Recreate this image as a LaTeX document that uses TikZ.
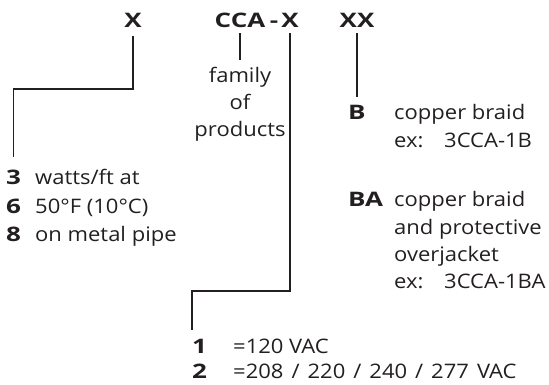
\documentclass[tikz,border=0pt]{standalone}
\usepackage{fontspec}
\setmainfont{Open Sans}[FakeStretch=1.1,BoldFeatures={FakeStretch=1.3}]
\usepackage{tikz}
\usetikzlibrary{positioning,calc}
\usepackage{xcolor}
\definecolor{ink}{HTML}{231F20}

\begin{document}
\begin{tikzpicture}[x=1pt,y=-1pt,font=\fontsize{20}{23}\selectfont,text=ink,
    lead/.style={draw=ink,line width=1.7pt},
    code/.style={font=\fontsize{20}{23}\selectfont\bfseries,inner sep=0pt,anchor=base},
    txt/.style={inner sep=0pt,anchor=base west}]
  \useasboundingbox (0,0) rectangle (549,385);
  % part number
  \node[code] (x1) at (133,28) {X};
  \node[code] (cca) at (240,28) {CCA};
  \node[code] (dash) at (274,28) {-};
  \node[code] (x2) at (290,28) {X};
  \node[code] (xx) at (357,28) {XX};
  % family of products
  \foreach \w [count=\i from 0] in {family,of,products}
    \node[txt,anchor=base] (fam\i) at (240,{83+27*\i}) {\w};
  \draw[lead,shorten <=5pt,shorten >=7pt] (cca.south) -- (fam0.north);
  % watts per foot
  \foreach \d/\t [count=\i from 0] in {3/{watts/ft at},6/{50°F (10°C)},8/{on metal pipe}} {
    \node[code,anchor=base west] (w\d) at (6,{185+28*\i}) {\d};
    \node[txt] (wt\d) at (35,{185+28*\i}) {\t};
  }
  \coordinate (k1) at (0,89);
  \draw[lead,shorten <=8pt,shorten >=13pt] (x1.south) |- (w3.north |- k1) -- (w3.north);
  % braid options
  \node[code,anchor=base west] (b) at (348,120) {B};
  \node[txt] (bt) at (394,120) {copper braid};
  \node[txt] (bex) at (394,148) {\makebox[50pt][l]{ex:}3CCA-1B};
  \draw[lead,shorten <=5pt,shorten >=9pt] (xx.south) -- (xx.south |- b.north);
  \node[code,anchor=base west] (ba) at (348,207) {BA};
  \foreach \t [count=\i from 0] in {copper braid,and protective,overjacket}
    \node[txt] (bat\i) at (394,{207+27*\i}) {\t};
  \node[txt] (baex) at (394,288) {\makebox[50pt][l]{ex:}3CCA-1BA};
  % voltage
  \foreach \d/\t [count=\i from 0] in {1/{=120 VAC},2/{\spaceskip=8pt =208 / 220 / 240 / 277 VAC}} {
    \node[code,anchor=base west] (v\d) at (192,{353+25*\i}) {\d};
    \node[txt] (vt\d) at (233,{353+25*\i}) {\t};
  }
  \coordinate (k2) at (0,291);
  \draw[lead,shorten <=5pt,shorten >=9pt] (x2.south) |- (v1.north west |- k2) -- (v1.north west);
\end{tikzpicture}
\end{document}
